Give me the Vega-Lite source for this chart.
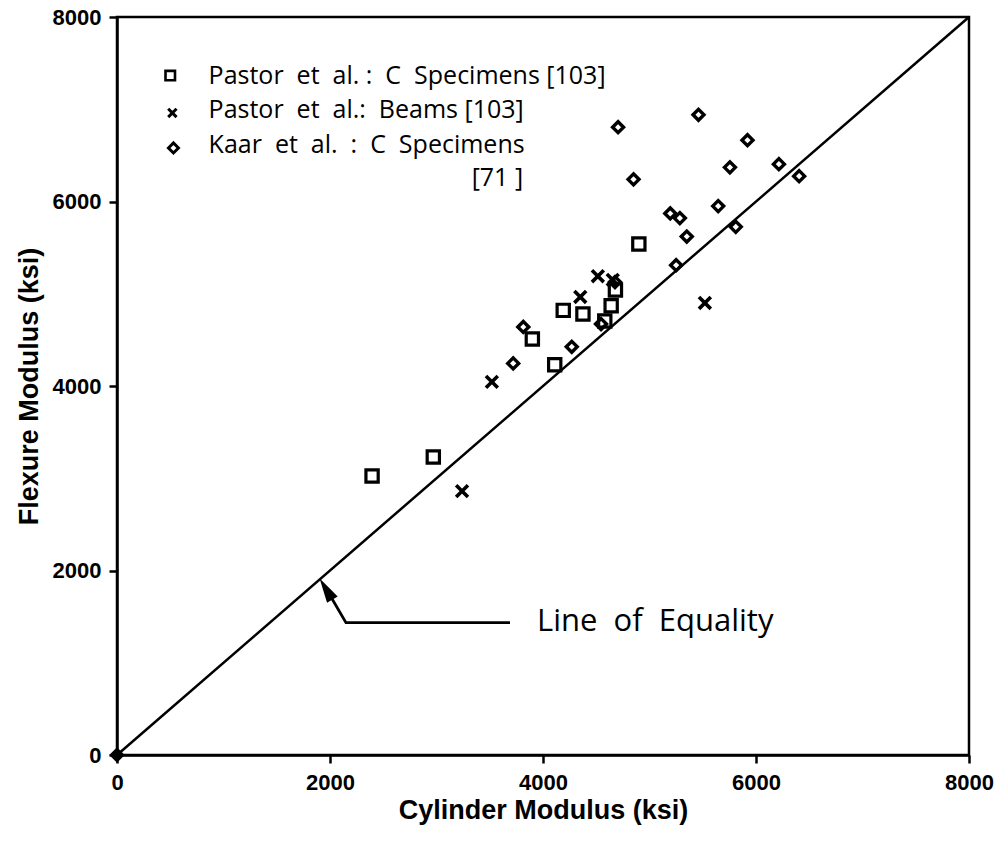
{
  "$schema": "https://vega.github.io/schema/vega-lite/v6.json",
  "width": 852,
  "height": 738,
  "autosize": {"type": "none"},
  "padding": {"left": 117, "top": 17, "right": 34, "bottom": 88},
  "background": "white",
  "config": {
    "view": {"stroke": "black", "strokeWidth": 2.5},
    "axis": {
      "domainColor": "black", "domainWidth": 2.5,
      "tickColor": "black", "tickWidth": 2.5, "tickSize": 8,
      "grid": false,
      "labelFont": "Liberation Sans", "labelFontWeight": "bold", "labelFontSize": 22, "labelColor": "black",
      "titleFont": "Liberation Sans", "titleFontWeight": "bold", "titleFontSize": 27, "titleColor": "black"
    }
  },
  "encoding": {
    "x": {"field": "x", "type": "quantitative",
      "scale": {"domain": [0, 8000], "nice": false, "zero": false},
      "axis": {"values": [0, 2000, 4000, 6000, 8000], "format": "d", "labelPadding": 9, "titlePadding": 4, "labelFlush": false, "labelOverlap": false, "title": "Cylinder Modulus (ksi)"}},
    "y": {"field": "y", "type": "quantitative",
      "scale": {"domain": [0, 8000], "nice": false, "zero": false},
      "axis": {"values": [0, 2000, 4000, 6000, 8000], "format": "d", "labelPadding": 8, "titlePadding": 9, "labelFlush": false, "labelOverlap": false, "title": "Flexure Modulus (ksi)"}}
  },
  "layer": [
    {
      "data": {"values": [{"x": 0, "y": 0}, {"x": 8000, "y": 8000}]},
      "mark": {"type": "line", "color": "black", "strokeWidth": 2.5}
    },
    {
      "data": {"values": [{"x": 3690, "y": 1435, "o": 1}, {"x": 2150, "y": 1435, "o": 2}, {"x": 1975, "y": 1780, "o": 3}]},
      "mark": {"type": "line", "color": "black", "strokeWidth": 2.8},
      "encoding": {"order": {"field": "o", "type": "quantitative"}}
    },
    {
      "data": {"values": [{"x": 1962, "y": 1800}]},
      "mark": {"type": "point", "shape": "M0,-1L0.5,1L-0.5,1Z", "filled": true, "color": "black", "opacity": 1, "size": 620, "angle": 329}
    },
    {
      "data": {"values": [{"x": 3944, "y": 1440, "label": "Line\u00a0 of\u00a0 Equality"}]},
      "mark": {"type": "text", "align": "left", "baseline": "middle", "font": "Open Sans", "fontSize": 31, "color": "black"},
      "encoding": {"text": {"field": "label"}}
    },
    {
      "data": {"values": [
        {"x": 2395, "y": 3025}, {"x": 2970, "y": 3230}, {"x": 3900, "y": 4510}, {"x": 4110, "y": 4230},
        {"x": 4190, "y": 4820}, {"x": 4375, "y": 4780}, {"x": 4580, "y": 4705}, {"x": 4640, "y": 4870},
        {"x": 4680, "y": 5040}, {"x": 4900, "y": 5540}
      ]},
      "mark": {"type": "point", "shape": "square", "filled": false, "color": "black", "strokeWidth": 3.2, "size": 150, "opacity": 1}
    },
    {
      "data": {"values": [
        {"x": 3240, "y": 2860}, {"x": 3520, "y": 4045}, {"x": 4350, "y": 4965}, {"x": 4515, "y": 5190},
        {"x": 4655, "y": 5150}, {"x": 5520, "y": 4900}
      ]},
      "mark": {"type": "point", "shape": "M-1,-1L1,1M-1,1L1,-1", "filled": false, "color": "black", "strokeWidth": 3.6, "size": 140, "opacity": 1}
    },
    {
      "data": {"values": [
        {"x": 3720, "y": 4245}, {"x": 3815, "y": 4640}, {"x": 4270, "y": 4425}, {"x": 4545, "y": 4672},
        {"x": 4676, "y": 5127}, {"x": 5250, "y": 5310}, {"x": 5350, "y": 5620}, {"x": 5195, "y": 5870},
        {"x": 5285, "y": 5820}, {"x": 5645, "y": 5950}, {"x": 5810, "y": 5725}, {"x": 4850, "y": 6240},
        {"x": 4705, "y": 6805}, {"x": 5460, "y": 6940}, {"x": 5755, "y": 6370}, {"x": 5920, "y": 6665},
        {"x": 6215, "y": 6405}, {"x": 6405, "y": 6275}
      ]},
      "mark": {"type": "point", "shape": "diamond", "filled": false, "color": "black", "strokeWidth": 3.4, "size": 120, "opacity": 1}
    },
    {
      "data": {"values": [{"x": 0, "y": 0}]},
      "mark": {"type": "point", "shape": "diamond", "filled": true, "color": "black", "size": 240, "opacity": 1}
    },
    {
      "data": {"values": [{"x": 500, "y": 7365}]},
      "mark": {"type": "point", "shape": "square", "filled": false, "color": "black", "strokeWidth": 2.6, "size": 90, "opacity": 1}
    },
    {
      "data": {"values": [{"x": 520, "y": 6960}]},
      "mark": {"type": "point", "shape": "M-1,-1L1,1M-1,1L1,-1", "filled": false, "color": "black", "strokeWidth": 3, "size": 70, "opacity": 1}
    },
    {
      "data": {"values": [{"x": 530, "y": 6580}]},
      "mark": {"type": "point", "shape": "diamond", "filled": false, "color": "black", "strokeWidth": 3, "size": 100, "opacity": 1}
    },
    {
      "data": {"values": [
        {"x": 860, "y": 7365, "label": "Pastor\u00a0 et\u00a0 al. :\u00a0 C\u00a0 Specimens [103]"},
        {"x": 860, "y": 6990, "label": "Pastor\u00a0 et\u00a0 al.:\u00a0 Beams [103]"},
        {"x": 860, "y": 6615, "label": "Kaar\u00a0 et\u00a0 al.\u00a0 :\u00a0 C\u00a0 Specimens"},
        {"x": 3330, "y": 6260, "label": "[71 ]"}
      ]},
      "mark": {"type": "text", "align": "left", "baseline": "middle", "font": "Open Sans", "fontSize": 25, "color": "black"},
      "encoding": {"text": {"field": "label"}}
    }
  ]
}
